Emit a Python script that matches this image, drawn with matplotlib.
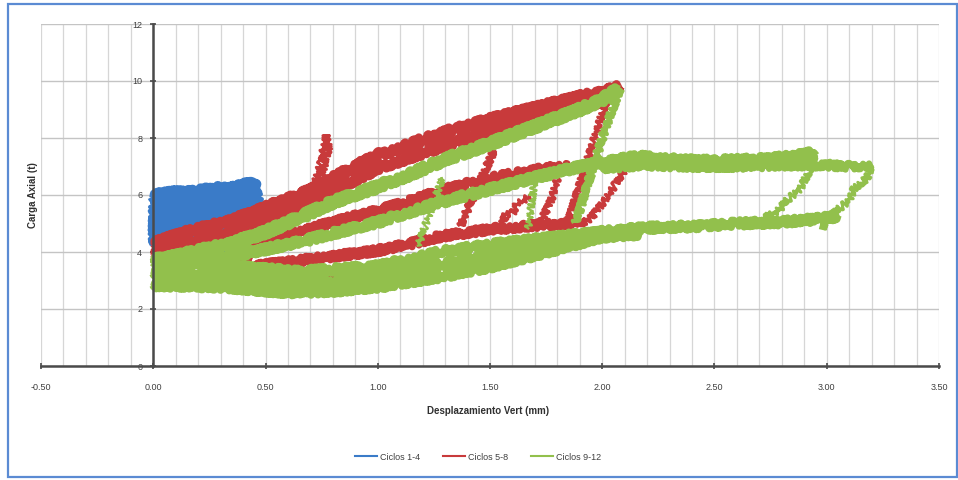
import matplotlib
matplotlib.use("Agg")
import matplotlib.pyplot as plt
from matplotlib.ticker import MultipleLocator, FormatStrFormatter
from matplotlib.lines import Line2D
from matplotlib.patches import Rectangle

plt.rcParams['font.family'] = ['Liberation Sans Narrow', 'Liberation Sans', 'DejaVu Sans']
plt.rcParams['axes.unicode_minus'] = False

# ---------------- data ----------------
series_names = ["Ciclos 1-4", "Ciclos 5-8", "Ciclos 9-12"]
series_colors = ["#3a7bc8", "#c83a3b", "#92c04c"]

x_ticks = [-0.5, 0.0, 0.5, 1.0, 1.5, 2.0, 2.5, 3.0, 3.5]
y_ticks = [0, 2, 4, 6, 8, 10, 12]

# Ciclos 1-4 (blue)
blue_x1 = [0.00, 0.05, 0.10, 0.15, 0.20, 0.25, 0.30, 0.35, 0.40, 0.44, 0.46]
blue_y1 = [5.95, 6.00, 6.05, 6.05, 6.10, 6.15, 6.20, 6.20, 6.30, 6.35, 6.25]
blue_x2 = [0.46, 0.40, 0.30, 0.20, 0.10, 0.00]
blue_y2 = [5.90, 5.85, 5.75, 5.65, 5.55, 5.45]
blue_x3 = [0.00, 0.10, 0.20, 0.30, 0.40, 0.46]
blue_y3 = [4.95, 5.10, 5.25, 5.35, 5.45, 5.50]
blue_x4 = [0.35, 0.25, 0.15, 0.05, 0.00]
blue_y4 = [5.05, 4.85, 4.70, 4.50, 4.40]
blue_x5 = [0.00, 0.00]
blue_y5 = [4.20, 5.90]
blue_x6 = [0.30, 0.35, 0.40, 0.45]
blue_y6 = [3.90, 3.95, 4.05, 4.15]
blue_x7 = [0.46, 0.47, 0.46]
blue_y7 = [6.25, 5.80, 5.40]

# Ciclos 5-8 (red)
red_x1 = [0.00, 0.15, 0.35, 0.50, 0.70, 0.85, 1.00, 1.15, 1.30, 1.50, 1.70, 1.90, 2.00, 2.08]
red_y1 = [4.30, 4.70, 5.10, 5.55, 6.15, 6.80, 7.40, 7.80, 8.20, 8.65, 9.05, 9.45, 9.60, 9.80]
red_x2 = [0.00, 0.15, 0.35, 0.50, 0.70, 0.85, 1.00, 1.15, 1.30, 1.50, 1.70, 1.90, 2.03]
red_y2 = [3.95, 4.30, 4.65, 5.10, 5.70, 6.35, 6.95, 7.35, 7.75, 8.20, 8.65, 9.05, 9.40]
red_x3 = [0.35, 0.50, 0.65, 0.80, 1.00, 1.15, 1.28, 1.50, 1.76, 1.85]
red_y3 = [4.25, 4.45, 4.70, 5.05, 5.45, 5.80, 6.15, 6.60, 6.95, 7.00]
red_x4 = [0.45, 0.65, 0.80, 1.00, 1.15, 1.28, 1.50, 1.72, 1.90]
red_y4 = [3.50, 3.70, 3.85, 4.05, 4.30, 4.55, 4.80, 4.95, 5.00]
red_x5 = [0.20, 0.26, 0.32, 0.38, 0.44]
red_y5 = [3.85, 3.80, 3.75, 3.75, 3.80]
red_x6 = [0.70, 0.80, 0.90, 1.00, 1.10, 1.25]
red_y6 = [3.15, 3.20, 3.25, 3.30, 3.35, 3.45]
red_x7 = [0.62, 0.68, 0.72, 0.75, 0.77, 0.78, 0.76, 0.74, 0.72]
red_y7 = [5.60, 5.90, 6.40, 7.20, 8.10, 7.60, 7.00, 6.50, 6.00]
red_x8 = [1.52, 1.48, 1.44, 1.40, 1.37]
red_y8 = [7.60, 6.90, 6.20, 5.50, 4.90]
red_x9 = [1.52, 1.55, 1.57, 1.60, 1.62, 1.65, 1.68]
red_y9 = [4.70, 4.90, 5.30, 5.35, 5.70, 5.80, 6.00]
red_x10 = [1.72, 1.74, 1.76, 1.78, 1.80]
red_y10 = [4.90, 5.30, 5.60, 6.00, 6.60]
red_x11 = [1.90, 1.95, 1.98, 2.02, 2.06, 2.10]
red_y11 = [4.95, 5.20, 5.50, 5.90, 6.40, 6.90]
red_x12 = [2.03, 1.99, 1.95, 1.91, 1.87, 1.84]
red_y12 = [9.60, 8.60, 7.60, 6.60, 5.60, 4.90]

# Ciclos 9-12 (green)
green_x1 = [0.00, 0.15, 0.35, 0.50, 0.65, 0.80, 1.00, 1.15, 1.30, 1.50, 1.70, 1.90, 2.00, 2.08]
green_y1 = [3.65, 3.95, 4.30, 4.70, 5.20, 5.75, 6.30, 6.75, 7.25, 7.80, 8.40, 9.00, 9.35, 9.75]
green_x2 = [0.00, 0.30, 0.50, 0.65, 0.80, 1.00, 1.28, 1.50, 1.72, 1.90, 2.00, 2.16, 2.30, 2.50, 2.70, 2.85, 2.95]
green_y2 = [3.30, 3.80, 4.10, 4.35, 4.65, 5.05, 5.75, 6.20, 6.65, 7.00, 7.15, 7.35, 7.25, 7.20, 7.25, 7.35, 7.50]
green_x3 = [2.00, 2.20, 2.40, 2.60, 2.80, 3.00, 3.10, 3.20]
green_y3 = [6.95, 7.05, 7.00, 7.00, 7.05, 7.05, 7.00, 7.05]
green_x4 = [0.00, 0.35, 0.65, 1.00, 1.28, 1.50, 1.72, 2.00, 2.20, 2.40, 2.60, 2.80, 2.95, 3.05]
green_y4 = [3.80, 3.50, 3.30, 3.50, 4.00, 4.25, 4.45, 4.70, 4.85, 4.90, 5.00, 5.05, 5.15, 5.25]
green_x5 = [0.00, 0.30, 0.60, 0.80, 1.00, 1.28, 1.50, 1.72, 2.00, 2.16]
green_y5 = [3.25, 3.15, 2.95, 2.95, 3.15, 3.55, 3.85, 4.20, 4.60, 4.70]
green_x6 = [0.00, 0.30, 0.60, 0.80, 1.00, 1.28, 1.50, 1.72, 2.00, 2.16]
green_y6 = [2.85, 2.80, 2.60, 2.65, 2.80, 3.15, 3.50, 3.95, 4.55, 4.65]
green_x7 = [3.20, 3.18, 3.12, 3.10, 3.05, 3.00, 2.98]
green_y7 = [7.05, 6.60, 6.20, 5.80, 5.50, 5.10, 4.80]
green_x8 = [2.95, 2.92, 2.88, 2.82, 2.78, 2.72]
green_y8 = [7.45, 6.80, 6.20, 5.80, 5.40, 5.20]
green_x9 = [1.29, 1.26, 1.23, 1.20, 1.18]
green_y9 = [6.60, 6.00, 5.30, 4.70, 4.20]
green_x10 = [1.70, 1.69, 1.68, 1.67]
green_y10 = [6.60, 6.00, 5.40, 4.80]
green_x11 = [2.08, 2.04, 2.00, 1.96, 1.92, 1.88]
green_y11 = [9.75, 8.90, 8.00, 7.00, 6.00, 5.00]

blue_paths = [(blue_x1, blue_y1, 7.5), (blue_x2, blue_y2, 7.5), (blue_x3, blue_y3, 7.5), (blue_x4, blue_y4, 7.5),
              (blue_x5, blue_y5, 3), (blue_x6, blue_y6, 3), (blue_x7, blue_y7, 3)]
red_paths = [(red_x1, red_y1, 6), (red_x2, red_y2, 6), (red_x3, red_y3, 5), (red_x4, red_y4, 5),
             (red_x5, red_y5, 4), (red_x6, red_y6, 3), (red_x7, red_y7, 2.2), (red_x8, red_y8, 2.5),
             (red_x9, red_y9, 2.2), (red_x10, red_y10, 2.2), (red_x11, red_y11, 2.2), (red_x12, red_y12, 2.2)]
green_paths = [(green_x1, green_y1, 6.5), (green_x2, green_y2, 5.5), (green_x3, green_y3, 4.5),
               (green_x4, green_y4, 5.5), (green_x5, green_y5, 6), (green_x6, green_y6, 6),
               (green_x7, green_y7, 2.2), (green_x8, green_y8, 2.2), (green_x9, green_y9, 1.6),
               (green_x10, green_y10, 1.6), (green_x11, green_y11, 2.8)]

# ---------------- figure ----------------
fig = plt.figure(figsize=(9.58, 4.80), dpi=100)
ax = fig.add_axes([41/958, 114/480, 898/958, 342/480])

for paths, color in zip([blue_paths, red_paths, green_paths], series_colors):
    for xs, ys, lw in paths:
        ln, = ax.plot(xs, ys, color=color, lw=lw, solid_capstyle='butt', solid_joinstyle='round', zorder=3)
        ln.set_sketch_params(scale=3.5, length=1.2, randomness=2)

ax.set_xlim(-0.5, 3.5)
ax.set_ylim(0, 12)
ax.set_xticks(x_ticks)
ax.set_yticks(y_ticks)
ax.xaxis.set_major_formatter(FormatStrFormatter('%.2f'))
ax.xaxis.set_minor_locator(MultipleLocator(0.1))
ax.grid(True, which='both', axis='x', color='#d6d6d6', lw=0.9, zorder=0)
ax.grid(True, which='major', axis='y', color='#c4c4c4', lw=1.0, zorder=0)
ax.set_axisbelow(True)

for s in ['top', 'right']:
    ax.spines[s].set_visible(False)
ax.spines['left'].set_position(('data', 0))
ax.spines['left'].set_color('#4a4a4a')
ax.spines['bottom'].set_color('#4a4a4a')
ax.spines['left'].set_linewidth(1.8)
ax.spines['bottom'].set_linewidth(1.8)
ax.spines['left'].set_zorder(4)

ax.tick_params(axis='both', which='major', direction='inout', length=4, width=1.2,
               color='#4a4a4a', labelsize=6.5, labelcolor='#404040')
ax.tick_params(axis='x', which='major', pad=10)
ax.tick_params(axis='y', which='major', pad=6)
ax.tick_params(axis='x', which='minor', length=0)

fig.text(33/958, 1 - 195/480, 'Carga Axial (t)', rotation=90, ha='center', va='center',
         fontsize=7, fontweight='bold', color='#303030')
fig.text(488/958, 1 - 411/480, 'Desplazamiento Vert (mm)', ha='center', va='center',
         fontsize=7, fontweight='bold', color='#303030')

handles = [Line2D([0], [0], color=c, lw=1.5) for c in series_colors]
fig.legend(handles, series_names, loc='center', bbox_to_anchor=(478/958, 1 - 457/480), ncol=3,
           frameon=False, fontsize=6.5, handlelength=2.5, handletextpad=0.3, columnspacing=2.5,
           labelcolor='#404040')

fig.patches.append(Rectangle((8/958, 3/480), 949/958, 473/480, transform=fig.transFigure,
                             fill=False, edgecolor='#5b8bd3', lw=1.6))

fig.savefig('out.png', dpi=100)
